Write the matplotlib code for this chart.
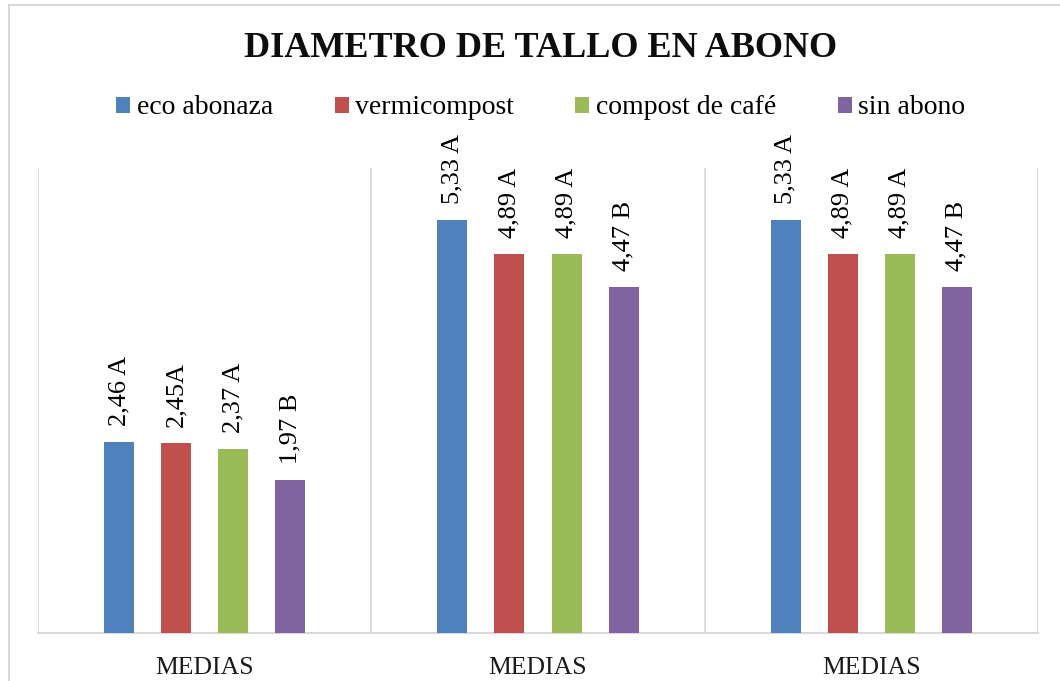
import matplotlib
matplotlib.use("Agg")
import matplotlib.pyplot as plt
from matplotlib.patches import Rectangle, Patch
import numpy as np

categories = ["MEDIAS", "MEDIAS", "MEDIAS"]
series_names = ["eco abonaza", "vermicompost", "compost de café", "sin abono"]
eco_abonaza = [2.46, 5.33, 5.33]
vermicompost = [2.45, 4.89, 4.89]
compost_cafe = [2.37, 4.89, 4.89]
sin_abono = [1.97, 4.47, 4.47]
labels_eco = ["2,46 A", "5,33 A", "5,33 A"]
labels_verm = ["2,45A", "4,89 A", "4,89 A"]
labels_cafe = ["2,37 A", "4,89 A", "4,89 A"]
labels_sin = ["1,97 B", "4,47 B", "4,47 B"]
title = "DIAMETRO DE TALLO EN ABONO"

colors = ["#4F81BD", "#C0504D", "#9BBB59", "#8064A2"]
series = [eco_abonaza, vermicompost, compost_cafe, sin_abono]
series_labels = [labels_eco, labels_verm, labels_cafe, labels_sin]

FONT = ["Liberation Serif", "DejaVu Serif"]
plt.rcParams["font.family"] = FONT

W, H = 1060, 681
fig = plt.figure(figsize=(W / 100, H / 100), dpi=100)
ax = fig.add_axes([38 / W, 48 / H, 1000 / W, 465 / H])

x = np.arange(len(categories))
bar_w = 0.09
offsets = [-0.2568, -0.0856, 0.0856, 0.2568]
for vals, labs, col, off, name in zip(series, series_labels, colors, offsets, series_names):
    bars = ax.bar(x + off, vals, width=bar_w, color=col, label=name, zorder=3)
    for b, lab in zip(bars, labs):
        ax.annotate(lab, (b.get_x() + b.get_width() / 2, b.get_height()),
                    xytext=(0, 11.5), textcoords="offset points",
                    rotation=90, ha="center", va="bottom", fontsize=19,
                    color="#000000")

ax.set_xlim(-0.5, 2.5)
ax.set_ylim(0, 6)
ax.vlines(np.arange(-0.5, 2.6, 1.0), 0, 6, colors="#D9D9D9", linewidth=1.3, zorder=1)
for s in ["top", "left", "right"]:
    ax.spines[s].set_visible(False)
ax.spines["bottom"].set_color("#D9D9D9")
ax.spines["bottom"].set_linewidth(1.5)
ax.set_yticks([])
ax.set_xticks(x)
ax.set_xticklabels(categories, fontsize=18.5)
ax.tick_params(axis="x", length=0, pad=17, colors="#000000")
for t in ax.get_xticklabels():
    t.set_color("#1a1a1a")

fig.text(541 / W, 1 - 57 / H, title, ha="center", va="baseline",
         fontsize=26, fontweight="bold", color="#0d0d0d")

handles = [Patch(facecolor=c, edgecolor="none") for c in colors]
fig.legend(handles, series_names, loc="center", bbox_to_anchor=(541 / W, 1 - 108 / H),
           ncol=4, frameon=False, fontsize=20, handlelength=0.5, handleheight=0.5,
           handletextpad=0.25, columnspacing=2.2, borderaxespad=0, borderpad=0)

fig.patches.append(Rectangle((8.5 / W, -0.05), 1.2, (H - 4.5) / H + 0.05,
                             transform=fig.transFigure, fill=False,
                             edgecolor="#D9D9D9", linewidth=1.5, clip_on=False))

fig.savefig("out.png", dpi=100, facecolor="white")
